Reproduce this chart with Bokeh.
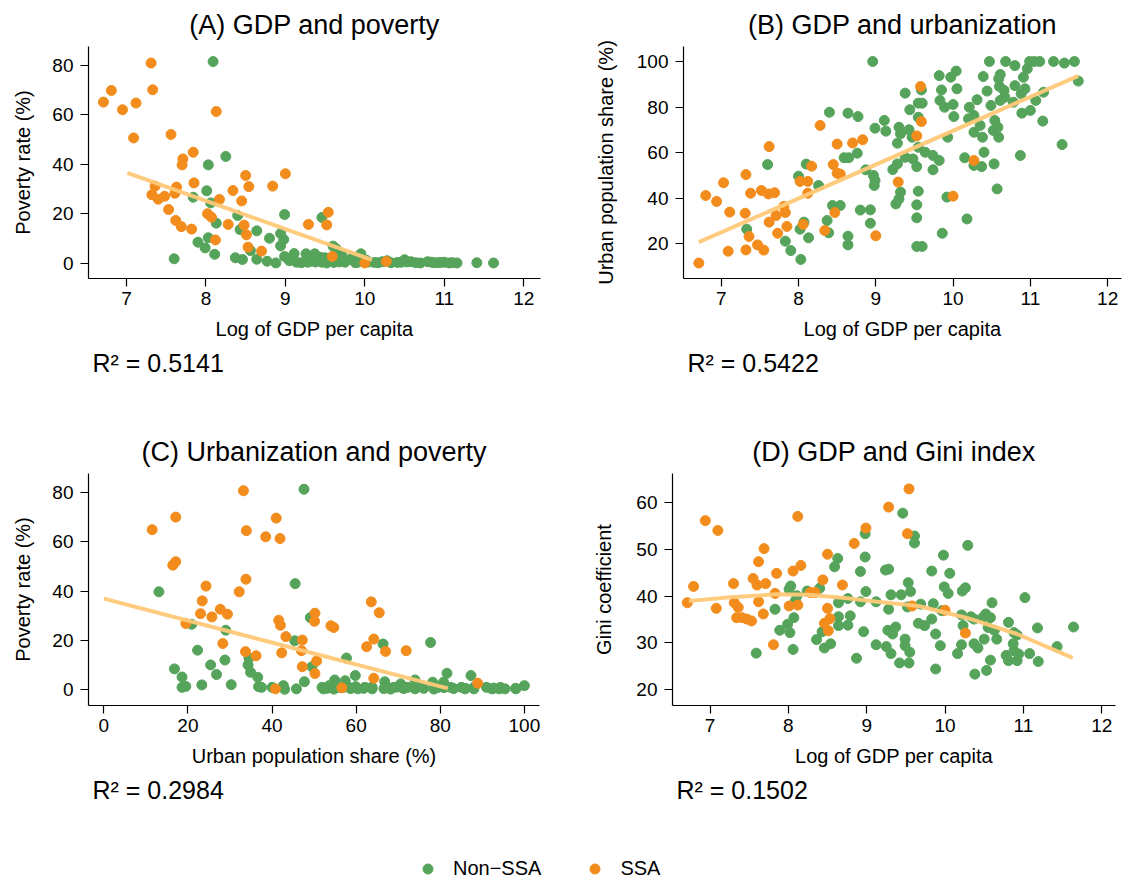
from bokeh.plotting import figure
from bokeh.layouts import column, row
from bokeh.models import FixedTicker, Title, Legend, LegendItem, Range1d
from bokeh.embed import file_html
from bokeh.resources import INLINE

# ---------------- data ----------------
# Panel A: log GDP per capita vs poverty rate
a_non_x = [8.09, 8.25, 8.03, 8.01, 8.06, 7.84, 8.13, 7.90, 8.03, 7.99,
           8.11, 7.60, 8.40, 8.43, 8.64, 8.80, 8.94, 8.98, 8.94, 8.99,
           8.37, 8.46, 8.56, 8.64, 8.77, 8.88, 8.99, 9.11, 9.14, 9.26,
           9.28, 9.37, 9.44, 9.46, 9.46, 9.60, 9.64, 9.71, 9.75, 9.93,
           9.91, 9.05, 9.20, 9.33, 9.38, 9.52, 9.56, 9.61, 9.68, 9.82,
           9.88, 9.95, 10.05, 10.12, 10.17, 10.22, 10.28, 10.33, 10.41, 10.46,
           10.53, 10.58, 10.64, 10.70, 10.79, 10.84, 10.87, 10.92, 10.95, 11.00,
           11.06, 11.10, 11.16, 11.41, 11.62, 9.70, 9.50, 9.85, 10.50, 10.02]
a_non_y = [81.6, 43.2, 39.8, 29.3, 24.4, 26.7, 16.2, 8.5, 10.3, 6.2,
           3.6, 1.8, 19.3, 13.6, 13.1, 10.1, 12.0, 9.6, 7.0, 19.7,
           2.2, 1.5, 5.1, 1.6, 0.8, 0.1, 2.7, 3.9, 0.4, 3.8,
           0.4, 3.8, 2.4, 0.4, 18.5, 6.9, 5.8, 3.8, 0.4, 3.1,
           0.4, 1.0, 0.2, 0.8, 0.5, 0.1, 1.5, 0.3, 0.5, 1.6,
           0.2, 3.8, 0.5, 0.3, 0.2, 0.6, 1.0, 0.2, 0.3, 0.4,
           0.5, 0.6, 0.2, 0.1, 0.6, 0.4, 0.2, 0.2, 0.3, 0.4,
           0.1, 0.2, 0.1, 0.2, 0.1, 1.9, 2.2, 2.5, 1.4, 1.2]
a_ssa_x = [6.71, 6.81, 6.95, 7.12, 7.09, 7.31, 7.33, 7.56, 7.71, 7.70,
           7.84, 8.13, 7.36, 7.32, 7.40, 7.48, 7.61, 7.63, 7.53, 7.62,
           7.69, 7.82, 7.85, 8.02, 8.07, 8.12, 8.17, 8.28, 8.34, 8.45,
           8.50, 8.54, 8.48, 8.51, 8.53, 8.70, 8.84, 9.00, 9.29, 9.54,
           9.52, 9.59, 10.00, 10.27]
a_ssa_y = [65.2, 69.9, 62.1, 64.8, 50.7, 81.0, 70.2, 52.1, 42.2, 39.8,
           44.9, 61.4, 31.2, 27.7, 25.9, 27.1, 28.3, 30.8, 21.7, 17.3,
           14.8, 13.8, 32.5, 20.0, 18.6, 9.4, 25.8, 15.7, 29.4, 25.2,
           35.5, 31.0, 15.4, 11.5, 6.5, 4.9, 31.2, 36.2, 15.7, 20.6,
           15.5, 2.7, 0.1, 0.7]
a_fit_x = [7.01, 10.09]
a_fit_y = [36.6, 1.35]

# Panel B: log GDP per capita vs urban share
b_non_x = [8.96, 7.60, 7.33, 7.83, 7.90, 8.03, 8.00, 8.02, 8.07, 8.13,
           8.10, 8.26, 8.37, 8.39, 8.44, 8.54, 8.40, 8.64, 8.77, 8.64,
           8.64, 8.59, 8.65, 8.76, 8.87, 8.80, 8.93, 8.93, 8.99, 9.11,
           9.13, 8.97, 8.99, 8.98, 9.22, 9.28, 9.26, 9.30, 9.32, 9.28,
           9.30, 9.32, 9.38, 9.44, 9.43, 9.47, 9.48, 9.38, 9.53, 9.55,
           9.60, 9.59, 9.55, 9.55, 9.55, 9.53, 9.53, 9.53, 9.60, 9.64,
           9.74, 9.74, 9.82, 9.82, 9.85, 9.83, 9.89, 9.97, 10.04, 10.05,
           10.00, 10.01, 9.93, 9.92, 9.86, 10.18, 10.15, 10.21, 10.20, 10.27,
           10.31, 10.27, 10.35, 10.38, 10.27, 10.37, 10.40, 10.39, 10.47, 10.44,
           10.49, 10.54, 10.52, 10.53, 10.57, 10.59, 10.61, 10.60, 10.61, 10.58,
           10.59, 10.68, 10.66, 10.67, 10.80, 10.80, 10.78, 10.87, 10.88, 10.91,
           10.93, 10.89, 10.99, 11.05, 11.12, 11.00, 11.07, 11.17, 11.16, 11.30,
           11.44, 11.57, 11.62, 11.41, 10.96]
b_non_y = [100, 54.7, 26.3, 21.0, 16.9, 13.0, 49.6, 26.3, 29.4, 22.5,
           54.9, 45.5, 30.1, 24.7, 36.7, 36.7, 77.7, 77.3, 75.8, 23.2,
           19.4, 57.7, 57.7, 59.7, 52.4, 34.7, 34.8, 28.9, 70.7, 74.1,
           69.4, 49.9, 47.7, 45.5, 52.5, 55.0, 37.4, 39.6, 42.6, 64.1,
           71.1, 68.2, 86.1, 78.8, 70.0, 66.7, 57.2, 57.9, 53.8, 81.7,
           81.7, 87.5, 75.5, 62.3, 43.0, 37.0, 31.3, 18.7, 18.7, 60.1,
           58.7, 52.4, 56.5, 93.8, 87.5, 82.9, 79.9, 93.1, 95.8, 88.0,
           81.1, 75.8, 66.7, 40.4, 24.5, 30.8, 57.7, 79.9, 74.8, 76.3,
           83.2, 68.9, 71.9, 66.7, 54.3, 53.8, 60.1, 93.4, 100, 87.0,
           80.7, 74.1, 69.7, 55.0, 44.0, 92.4, 94.3, 89.0, 82.9, 71.1,
           66.7, 100, 87.3, 84.3, 98.2, 89.4, 82.1, 58.7, 85.8, 93.1,
           88.0, 77.3, 100, 100, 100, 78.5, 82.9, 86.5, 73.8, 100,
           99.3, 100, 91.4, 63.5, 96.8]
b_ssa_x = [6.71, 6.80, 6.94, 7.03, 7.11, 7.09, 7.32, 7.31, 7.38, 7.36,
           7.32, 7.47, 7.55, 7.52, 7.61, 7.69, 7.62, 7.62, 7.71, 7.81,
           7.83, 7.73, 7.85, 8.02, 8.12, 8.12, 8.17, 8.06, 8.28, 8.34,
           8.45, 8.50, 8.50, 8.54, 8.47, 8.70, 8.83, 9.00, 9.29, 9.53,
           9.58, 9.59, 10.00, 10.27]
b_ssa_y = [11.4, 41.1, 38.5, 46.7, 33.8, 16.6, 50.3, 33.3, 42.1, 23.1,
           17.2, 19.4, 17.1, 43.3, 41.8, 42.3, 62.6, 29.4, 32.3, 36.3,
           33.6, 24.5, 27.5, 47.3, 47.3, 42.1, 54.0, 28.4, 71.9, 25.7,
           54.7, 63.7, 50.9, 50.5, 33.6, 64.2, 65.6, 23.4, 47.0, 67.3,
           89.0, 73.6, 40.8, 56.5]
b_fit_x = [6.71, 11.62]
b_fit_y = [20.6, 93.7]

# Panel C: urban share vs poverty rate
c_non_x = [47.6, 13.1, 20.9, 22.3, 16.8, 18.6, 18.6, 19.5, 23.3, 25.4,
           26.8, 29.0, 28.8, 30.3, 34.5, 34.3, 34.9, 36.6, 36.8, 37.5,
           40.0, 42.7, 43.0, 45.5, 45.4, 45.8, 47.7, 49.1, 49.5, 52.2,
           53.6, 54.9, 56.0, 57.7, 57.4, 58.3, 59.8, 60.4, 62.1, 63.8,
           66.4, 66.8, 67.2, 68.9, 70.6, 72.3, 74.0, 74.0, 75.7, 77.7,
           78.2, 79.5, 80.8, 81.6, 82.5, 85.0, 85.9, 87.3, 88.0, 91.0,
           92.3, 94.0, 95.4, 98.0, 100.0,
           51.9, 53.1, 54.7, 57.1, 58.7, 59.9, 61.8, 63.8, 66.6, 68.2,
           69.8, 71.3, 74.1, 76.1, 78.5, 80.9, 83.2, 86.0, 88.0, 92.7, 94.3, 97.9]
c_non_y = [81.3, 39.7, 26.5, 16.0, 8.4, 5.1, 0.9, 1.3, 1.9, 10.0,
           6.1, 24.1, 12.0, 2.0, 12.8, 10.0, 7.0, 5.0, 1.2, 0.9,
           0.9, 1.6, 0.1, 43.0, 19.8, 0.3, 3.2, 29.2, 9.3, 0.3,
           1.6, 3.9, 0.9, 12.8, 3.6, 0.9, 5.7, 0.3, 0.9, 0.3,
           18.5, 3.2, 0.9, 0.9, 2.3, 0.9, 3.9, 0.3, 0.9, 19.1,
           3.0, 0.9, 3.0, 6.6, 0.9, 0.9, 0.3, 5.7, 0.3, 0.9,
           0.3, 0.3, 0.3, 0.3, 1.6,
           0.9, 0.5, 0.2, 1.0, 0.4, 1.2, 0.5, 1.0, 0.4, 0.2,
           1.0, 0.4, 1.2, 0.5, 0.2, 0.8, 0.4, 0.5, 0.9, 0.6, 0.9, 0.5]
c_ssa_x = [11.5, 17.1, 16.4, 17.1, 19.5, 23.0, 23.4, 24.3, 25.7, 27.7,
           29.4, 28.3, 32.2, 33.2, 33.9, 33.8, 33.7, 36.2, 38.5, 41.0,
           41.9, 41.6, 42.0, 43.3, 42.3, 40.8, 47.2, 47.0, 47.2, 50.2,
           50.1, 50.6, 50.2, 54.0, 54.7, 56.6, 62.5, 63.6, 65.5, 64.2,
           67.0, 64.2, 71.9, 88.9]
c_ssa_y = [64.9, 70.0, 50.5, 51.9, 26.8, 30.8, 36.0, 42.0, 29.5, 32.6,
           30.6, 18.7, 39.7, 80.7, 64.5, 44.8, 15.4, 13.7, 62.0, 69.6,
           61.3, 28.1, 26.1, 21.5, 14.9, 0.3, 20.1, 15.8, 9.3, 31.0,
           27.7, 11.6, 6.5, 25.9, 25.2, 0.7, 17.4, 35.6, 31.2, 20.5,
           15.5, 4.6, 15.8, 2.6]
c_fit_x = [0.0, 81.8]
c_fit_y = [36.9, 0.5]

# Panel D: log GDP per capita vs Gini
d_non_x = [7.59, 7.83, 7.89, 7.99, 8.02, 8.07, 8.06, 8.01, 8.03, 8.11,
           8.09, 8.24, 8.36, 8.43, 8.46, 8.54, 8.40, 8.59, 8.63, 8.64,
           8.64, 8.64, 8.76, 8.79, 8.76, 8.87, 8.92, 8.98, 8.98, 8.99,
           8.92, 8.96, 9.12, 9.12, 9.46, 9.61, 9.61, 9.25, 9.31, 9.42,
           9.54, 9.49, 9.49, 9.55, 9.27, 9.37, 9.33, 9.28, 9.31, 9.44,
           9.24, 9.28, 9.53, 9.56, 9.52, 9.69, 9.66, 9.74, 9.83, 9.88,
           9.94, 9.88, 9.83, 9.98, 10.06, 9.99, 10.04, 9.85, 9.96, 10.22,
           10.26, 10.29, 10.21, 10.23, 10.21, 10.16, 10.37, 10.42, 10.33, 10.37,
           10.38, 10.53, 10.58, 10.50, 10.48, 10.52, 10.58, 10.60, 10.55, 10.63,
           10.66, 10.78, 10.81, 10.88, 10.92, 10.87, 10.88, 10.81, 10.92, 10.94,
           11.02, 11.08, 11.18, 11.19, 11.43, 11.64]
d_non_y = [27.8, 37.2, 32.7, 34.0, 32.2, 35.4, 28.6, 41.5, 42.2, 40.1,
           39.0, 41.1, 30.7, 32.4, 28.9, 29.8, 41.7, 46.3, 48.1, 38.6,
           35.6, 33.7, 39.5, 35.8, 33.8, 26.7, 45.3, 48.4, 53.4, 41.0,
           38.8, 32.4, 29.6, 38.8, 57.8, 52.9, 51.4, 29.2, 27.7, 25.7,
           25.7, 30.8, 29.4, 28.0, 32.7, 33.4, 31.9, 37.2, 40.3, 40.3,
           45.6, 45.8, 42.9, 41.0, 37.7, 38.3, 34.2, 33.7, 35.1, 31.9,
           29.4, 24.4, 45.4, 48.8, 44.9, 42.0, 40.6, 38.4, 36.9, 41.1,
           41.8, 50.9, 36.0, 33.7, 29.6, 27.7, 29.8, 28.9, 35.6, 35.1,
           23.3, 24.1, 26.3, 30.8, 35.4, 36.2, 35.4, 38.6, 33.3, 32.7,
           30.8, 27.3, 34.4, 32.2, 31.7, 29.8, 28.3, 26.2, 26.2, 27.6,
           39.7, 27.7, 33.2, 26.0, 29.2, 33.4]
d_ssa_x = [6.71, 6.79, 6.94, 7.10, 7.08, 7.30, 7.31, 7.36, 7.34, 7.41,
           7.47, 7.53, 7.55, 7.60, 7.71, 7.62, 7.68, 7.62, 7.69, 7.81,
           7.85, 7.83, 8.01, 8.06, 8.12, 8.16, 8.12, 8.28, 8.34, 8.44,
           8.50, 8.50, 8.53, 8.46, 8.51, 8.69, 8.84, 8.99, 9.54, 9.28,
           9.52, 9.58, 10.00, 10.26]
d_ssa_y = [38.6, 42.1, 56.2, 54.1, 37.4, 42.7, 38.6, 37.6, 35.4, 35.4,
           35.1, 34.7, 43.8, 42.4, 42.7, 38.8, 36.2, 47.4, 50.2, 29.6,
           44.9, 40.6, 37.9, 45.4, 38.1, 46.6, 57.1, 40.8, 40.8, 43.5,
           49.0, 37.4, 35.2, 34.2, 32.6, 42.4, 51.3, 54.6, 63.0, 59.1,
           53.4, 37.9, 37.0, 32.1]
d_fit_x = [6.73, 7.21, 7.84, 8.26, 8.72, 9.14, 9.66, 10.27, 10.92, 11.63]
d_fit_y = [39.0, 39.7, 40.4, 40.3, 39.6, 38.8, 37.9, 35.4, 31.9, 26.8]

# tick values, titles, labels
gdp_ticks = [7, 8, 9, 10, 11, 12]
pov_ticks = [0, 20, 40, 60, 80]
urb_ticks_y = [20, 40, 60, 80, 100]
urb_ticks_x = [0, 20, 40, 60, 80, 100]
gini_ticks = [20, 30, 40, 50, 60]
titles = ["(A) GDP and poverty", "(B) GDP and urbanization",
          "(C) Urbanization and poverty", "(D) GDP and Gini index"]
r2_values = ["0.5141", "0.5422", "0.2984", "0.1502"]
legend_labels = ["Non\u2212SSA", "SSA"]

# ---------------- styling ----------------
FONT = "Liberation Sans"
GREEN = "#56A45B"
ORANGE = "#F28D1D"
FITC = "#FFC978"


def panel(w, h, left, top, fw, fh, xr, yr, xt, yt, title, xlabel, ylabel, r2,
          ylab_standoff, gx, gy, ox, oy, fx, fy):
    p = figure(width=w, height=h, x_range=Range1d(*xr), y_range=Range1d(*yr),
               output_backend="svg", toolbar_location=None,
               min_border_left=left, min_border_top=top,
               min_border_right=w - left - fw, min_border_bottom=h - top - fh)
    p.grid.visible = False
    p.outline_line_color = None
    p.background_fill_color = "white"
    p.border_fill_color = "white"
    p.title.text = title
    p.title.text_font = FONT
    p.title.text_font_size = "27px"
    p.title.text_font_style = "normal"
    p.title.text_color = "black"
    p.title.align = "center"
    p.title.standoff = 13
    p.xaxis.ticker = FixedTicker(ticks=xt)
    p.yaxis.ticker = FixedTicker(ticks=yt)
    for ax in (p.xaxis, p.yaxis):
        ax.axis_line_color = "black"
        ax.axis_line_width = 1.2
        ax.major_tick_line_color = "black"
        ax.major_tick_line_width = 1.2
        ax.major_tick_in = 0
        ax.major_tick_out = 8
        ax.minor_tick_in = 0
        ax.minor_tick_out = 0
        ax.major_label_text_font = FONT
        ax.major_label_text_font_size = "19px"
        ax.major_label_text_color = "black"
        ax.axis_label_text_font = FONT
        ax.axis_label_text_font_size = "20px"
        ax.axis_label_text_font_style = "normal"
        ax.axis_label_text_color = "black"
    p.xaxis.axis_label = xlabel
    p.yaxis.axis_label = ylabel
    p.xaxis.major_label_standoff = 5
    p.xaxis.axis_label_standoff = 10
    p.yaxis.major_label_standoff = 7
    p.yaxis.axis_label_standoff = ylab_standoff
    p.scatter(gx, gy, size=10, fill_color=GREEN, line_color=GREEN)
    p.scatter(ox, oy, size=10, fill_color=ORANGE, line_color=ORANGE)
    p.line(fx, fy, line_color=FITC, line_width=4, line_alpha=0.95)
    p.add_layout(Title(text="R\u00b2 = " + r2, align="left", offset=4, standoff=8,
                       text_font=FONT, text_font_size="25px", text_font_style="normal",
                       text_color="black"), "below")
    return p


pa = panel(566, 428, 88, 46, 452, 232, (6.522, 12.211), (-6.19, 87.7),
           gdp_ticks, pov_ticks, titles[0], "Log of GDP per capita", "Poverty rate (%)",
           r2_values[0], 15, a_non_x, a_non_y, a_ssa_x, a_ssa_y, a_fit_x, a_fit_y)
pb = panel(558, 428, 117, 46, 438, 232, (6.512, 12.179), (4.62, 106.6),
           gdp_ticks, urb_ticks_y, titles[1], "Log of GDP per capita", "Urban population share (%)",
           r2_values[1], 17, b_non_x, b_non_y, b_ssa_x, b_ssa_y, b_fit_x, b_fit_y)
pc = panel(566, 400, 88, 44, 451, 233, (-3.64, 103.6), (-6.46, 87.7),
           urb_ticks_x, pov_ticks, titles[2], "Urban population share (%)", "Poverty rate (%)",
           r2_values[2], 15, c_non_x, c_non_y, c_ssa_x, c_ssa_y, c_fit_x, c_fit_y)
pd_ = panel(558, 400, 106, 44, 443, 233, (6.521, 12.176), (16.58, 66.3),
            gdp_ticks, gini_ticks, titles[3], "Log of GDP per capita", "Gini coefficient",
            r2_values[3], 18, d_non_x, d_non_y, d_ssa_x, d_ssa_y, d_fit_x, d_fit_y)

lg = figure(width=1124, height=54, x_range=Range1d(0, 1), y_range=Range1d(0, 1),
            output_backend="svg", toolbar_location=None,
            x_axis_location=None, y_axis_location=None, min_border=0)
lg.outline_line_color = None
lg.grid.visible = False
# one point each, placed outside the visible range: only their legend glyphs show
r_non = lg.scatter(x=[5], y=[5], size=10, fill_color=GREEN, line_color=GREEN)
r_ssa = lg.scatter(x=[5], y=[5], size=10, fill_color=ORANGE, line_color=ORANGE)
legend = Legend(items=[LegendItem(label=legend_labels[0], renderers=[r_non], index=0),
                       LegendItem(label=legend_labels[1], renderers=[r_ssa], index=0)],
                orientation="horizontal", location=(415, 1), padding=0, margin=0,
                spacing=41, glyph_width=25, glyph_height=25, label_standoff=13,
                label_text_font=FONT, label_text_font_size="20px", label_text_color="black",
                border_line_color=None, background_fill_alpha=0)
lg.add_layout(legend)

layout = column(row(pa, pb), row(pc, pd_), lg)
open("out.html", "w").write(file_html(layout, INLINE))
